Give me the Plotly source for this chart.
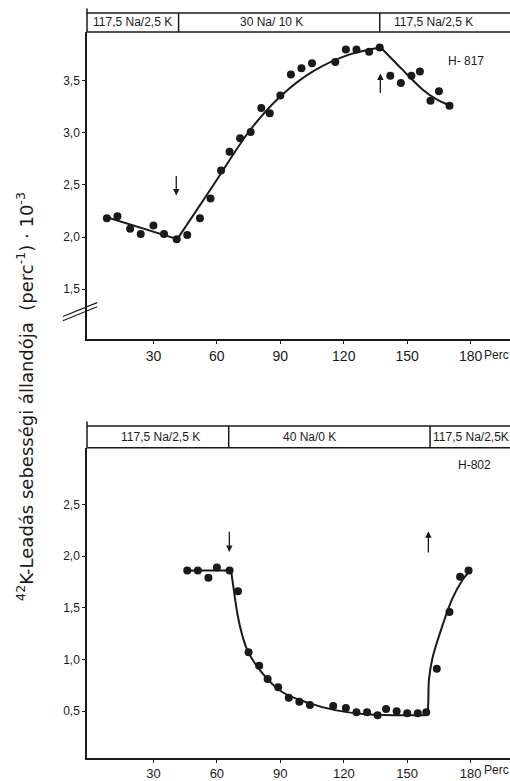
import plotly.graph_objects as go

# ---------------- data: top panel (H-817) ----------------
top_x = [8, 13, 19, 24, 30, 35, 41, 46, 52, 57, 62, 66, 71, 76, 81, 85, 90, 95, 100, 105,
         116, 121, 126, 132, 137, 142, 147, 152, 156, 161, 165, 170]
top_y = [2.18, 2.20, 2.08, 2.03, 2.11, 2.03, 1.98, 2.02, 2.18, 2.37, 2.64, 2.82, 2.95, 3.01,
         3.24, 3.19, 3.36, 3.56, 3.62, 3.67, 3.68, 3.80, 3.80, 3.78, 3.82, 3.55, 3.48, 3.55,
         3.59, 3.31, 3.40, 3.26]
top_fit1_x = [8, 41.3]
top_fit1_y = [2.19, 1.98]
top_fit2_x = [41.3, 58.7, 76.2, 90.5, 106.2, 122.2, 137.5]
top_fit2_y = [1.98, 2.51, 3.04, 3.36, 3.60, 3.75, 3.82]
top_fit3_x = [137.5, 147.6, 157.1, 163.3, 170.5]
top_fit3_y = [3.82, 3.61, 3.42, 3.33, 3.26]

# ---------------- data: bottom panel (H-802) ----------------
bot_x = [46, 51, 56, 60, 66, 70, 75, 80, 84, 89, 94, 99, 104, 115, 121, 126, 131, 136, 140,
         145, 150, 155, 159, 164, 170, 175, 179]
bot_y = [1.86, 1.86, 1.79, 1.89, 1.86, 1.66, 1.07, 0.94, 0.81, 0.73, 0.63, 0.59, 0.56, 0.55,
         0.53, 0.49, 0.49, 0.46, 0.52, 0.50, 0.48, 0.48, 0.49, 0.91, 1.46, 1.80, 1.86]
bot_fit1_x = [45.2, 66.7]
bot_fit1_y = [1.86, 1.86]
bot_fit2_x = [66.7, 67.9, 69.8, 72.2, 74.6, 81, 90.5, 103.2, 115.9, 130.1, 146, 158.7]
bot_fit2_y = [1.86, 1.69, 1.43, 1.22, 1.08, 0.88, 0.69, 0.58, 0.51, 0.47, 0.46, 0.46]
bot_fit3_x = [158.7, 159.5, 160.3, 161.9, 166.7, 171.4, 176.2, 179.4]
bot_fit3_y = [0.46, 0.48, 0.81, 1.01, 1.33, 1.59, 1.77, 1.85]

x_ticks = [30, 60, 90, 120, 150, 180]
x_ticktext = ["30", "60", "90", "120", "150", "180"]
top_yticks = [1.5, 2.0, 2.5, 3.0, 3.5]
top_yticktext = ["1,5", "2,0", "2,5", "3,0", "3,5"]
bot_yticks = [0.5, 1.0, 1.5, 2.0, 2.5]
bot_yticktext = ["0,5", "1,0", "1,5", "2,0", "2,5"]

top_strip_labels = ["117,5 Na/2,5 K", "30 Na/ 10 K", "117,5 Na/2,5 K"]
top_strip_label_x = [20, 85.7, 162.4]
top_strip_div = [41.9, 137]
bot_strip_labels = ["117,5 Na/2,5 K", "40 Na/0 K", "117,5 Na/2,5K"]
bot_strip_label_x = [33.3, 103.8, 180]
bot_strip_div = [65.6, 160.8]

FONT = "Liberation Sans, Arial, sans-serif"
BLACK = "#1a1a1a"

fig = go.Figure()

def add_panel(xs, ys, fits, xa, ya):
    for i, (fx, fy) in enumerate(fits):
        fig.add_trace(go.Scatter(x=fx, y=fy, mode="lines", xaxis=xa, yaxis=ya,
                                 line=dict(color=BLACK, width=2,
                                           shape="linear" if i == 0 else "spline"),
                                 showlegend=False, hoverinfo="skip"))
    fig.add_trace(go.Scatter(x=xs, y=ys, mode="markers", xaxis=xa, yaxis=ya,
                             marker=dict(color=BLACK, size=8), showlegend=False))

add_panel(top_x, top_y, [(top_fit1_x, top_fit1_y), (top_fit2_x, top_fit2_y),
                         (top_fit3_x, top_fit3_y)], "x", "y")
add_panel(bot_x, bot_y, [(bot_fit1_x, bot_fit1_y), (bot_fit2_x, bot_fit2_y),
                         (bot_fit3_x, bot_fit3_y)], "x2", "y2")

XR = [-1.4, 198.6]
TOP_DOM = [0.5623, 0.9746]
BOT_DOM = [0.0, 0.4163]
axis_common = dict(showline=True, linecolor=BLACK, linewidth=1.5, showgrid=False,
                   zeroline=False, ticks="outside", ticklen=3, tickcolor=BLACK,
                   tickwidth=1)
fig.update_layout(
    width=510, height=781,
    margin=dict(l=87, r=0, t=13, b=23, autoexpand=False),
    paper_bgcolor="white", plot_bgcolor="white",
    font=dict(family=FONT, color=BLACK),
    xaxis=dict(domain=[0, 1], anchor="y", range=XR, tickvals=x_ticks, ticktext=x_ticktext,
               tickfont=dict(size=14), **axis_common),
    yaxis=dict(domain=TOP_DOM, anchor="x", range=[1.02, 3.97], tickvals=top_yticks,
               ticktext=top_yticktext, tickfont=dict(size=12), **axis_common),
    xaxis2=dict(domain=[0, 1], anchor="y2", range=XR, tickvals=x_ticks, ticktext=x_ticktext,
                tickfont=dict(size=13), **axis_common),
    yaxis2=dict(domain=BOT_DOM, anchor="x2", range=[0.047, 3.046], tickvals=bot_yticks,
                ticktext=bot_yticktext, tickfont=dict(size=12), **axis_common),
)

shapes = []
line_style = dict(color=BLACK, width=1.5)
# header strips
for (y0, y1, divs, dom_top) in [(0.9746, 1.0, top_strip_div, TOP_DOM[1]),
                                (0.4163, 0.4458, bot_strip_div, BOT_DOM[1])]:
    shapes.append(dict(type="line", xref="paper", yref="paper", x0=0, x1=1, y0=y1, y1=y1,
                       line=line_style))
    shapes.append(dict(type="line", xref="paper", yref="paper", x0=0, x1=1, y0=y0, y1=y0,
                       line=line_style))
    shapes.append(dict(type="line", xref="paper", yref="paper", x0=0, x1=0, y0=dom_top,
                       y1=y1 + 0.006, line=line_style))
    for d in divs:
        shapes.append(dict(type="line", xref="x", yref="paper", x0=d, x1=d, y0=y0, y1=y1,
                           line=line_style))
# axis break marks
for dy in (0.0, 0.0056):
    shapes.append(dict(type="line", xref="paper", yref="paper", x0=-0.057, x1=0.024,
                       y0=0.587 + dy, y1=0.6057 + dy, line=dict(color=BLACK, width=1.2)))
fig.update_layout(shapes=shapes)

ann = []
for lab, lx in zip(top_strip_labels, top_strip_label_x):
    ann.append(dict(text=lab, x=lx, y=0.9873, xref="x", yref="paper", showarrow=False,
                    font=dict(size=12), xanchor="center", yanchor="middle"))
for lab, lx in zip(bot_strip_labels, bot_strip_label_x):
    ann.append(dict(text=lab, x=lx, y=0.4311, xref="x", yref="paper", showarrow=False,
                    font=dict(size=12), xanchor="center", yanchor="middle"))
ann.append(dict(text="H- 817", x=177.6, y=3.69, xref="x", yref="y", showarrow=False,
                font=dict(size=12)))
ann.append(dict(text="H-802", x=181.7, y=2.88, xref="x2", yref="y2", showarrow=False,
                font=dict(size=12)))
ann.append(dict(text="Perc", x=185.3, y=0.5415, xref="x", yref="paper", showarrow=False,
                font=dict(size=12), xanchor="left", yanchor="middle"))
ann.append(dict(text="Perc", x=185.3, y=-0.0155, xref="x2", yref="paper", showarrow=False,
                font=dict(size=12), xanchor="left", yanchor="middle"))
# arrows (head, tail)
for (xr, yr, hx, hy, tx, ty) in [("x", "y", 40.8, 2.40, 40.8, 2.60),
                                 ("x", "y", 137.3, 3.57, 137.3, 3.37),
                                 ("x2", "y2", 65.9, 2.04, 65.9, 2.25),
                                 ("x2", "y2", 160.0, 2.24, 160.0, 2.02)]:
    ann.append(dict(text="", x=hx, y=hy, ax=tx, ay=ty, xref=xr, yref=yr, axref=xr, ayref=yr,
                    showarrow=True, arrowhead=2, arrowsize=1, arrowwidth=1.3,
                    arrowcolor=BLACK))
ann.append(dict(text="<sup>42</sup>K-Leadás sebességi állandója  (perc<sup>-1</sup>) · 10<sup>-3</sup>",
                x=-0.1467, y=0.486, xref="paper", yref="paper", showarrow=False,
                textangle=-90, font=dict(size=18, family="DejaVu Sans, sans-serif"),
                xanchor="center", yanchor="middle"))
fig.update_layout(annotations=ann)

fig.write_html("out.html", config={"displayModeBar": False},
               post_script="document.body.style.margin='0';document.body.style.overflow='hidden';")
